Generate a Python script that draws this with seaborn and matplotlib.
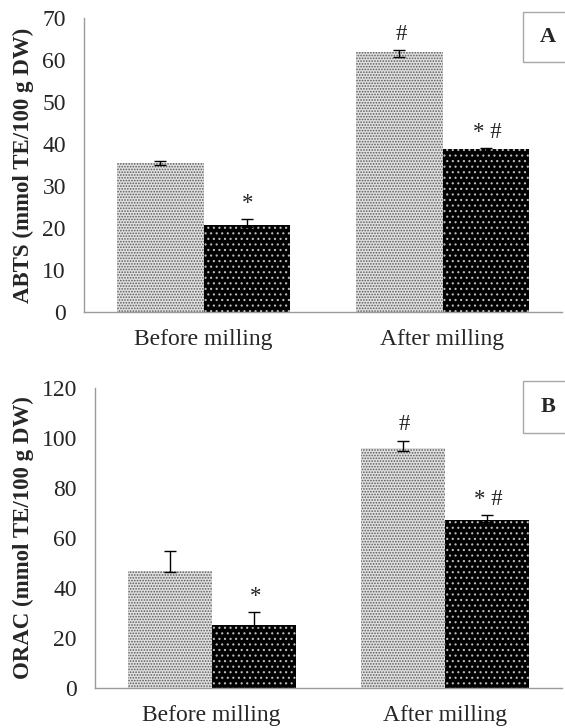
import pandas as pd
import numpy as np
import matplotlib
matplotlib.use('Agg')
import matplotlib.pyplot as plt
from matplotlib.patches import Rectangle
import seaborn as sns

sns.set_style('white')
plt.rcParams['font.family'] = ['Liberation Serif', 'DejaVu Serif']
plt.rcParams['hatch.linewidth'] = 0.8

# data
stages = ['Before milling', 'After milling']
groups = ['light', 'dark']

abts_light = [35.5, 62.0]
abts_dark = [20.7, 38.7]
abts_err_lo_light = [0.6, 1.2]
abts_err_hi_light = [0.5, 0.3]
abts_err_lo_dark = [0.5, 0.3]
abts_err_hi_dark = [1.4, 0.3]
abts_marks_light = ['', '#']
abts_marks_dark = ['*', '* #']

orac_light = [46.9, 95.9]
orac_dark = [25.2, 67.1]
orac_err_lo_light = [0.4, 1.0]
orac_err_hi_light = [8.0, 2.9]
orac_err_lo_dark = [0.5, 0.5]
orac_err_hi_dark = [5.1, 2.0]
orac_marks_light = ['', '#']
orac_marks_dark = ['*', '* #']


def make_df(light, dark):
    return pd.DataFrame({
        'stage': stages * 2,
        'group': [groups[0]] * 2 + [groups[1]] * 2,
        'value': list(light) + list(dark),
    })


def draw_panel(ax, light, dark, lo_l, hi_l, lo_d, hi_d, marks_l, marks_d,
               ylabel, ymax, step):
    df = make_df(light, dark)
    sns.barplot(data=df, x='stage', y='value', hue='group', order=stages,
                hue_order=groups, palette=['#e0e0e0', '#000000'],
                width=0.72, errorbar=None, legend=False, ax=ax,
                linewidth=0, saturation=1)
    bars = ax.patches[:4]
    # seaborn draws hue level by hue level
    for p in bars[:2]:
        p.set_hatch('......')
        p.set_edgecolor('#5a5a5a')
        p.set_linewidth(0)
    for p in bars[2:]:
        p.set_hatch('...')
        p.set_edgecolor('#bcbcbc')
        p.set_linewidth(0)

    vals = list(light) + list(dark)
    lo = list(lo_l) + list(lo_d)
    hi = list(hi_l) + list(hi_d)
    marks = list(marks_l) + list(marks_d)
    xs = [p.get_x() + p.get_width() / 2 for p in bars]
    ax.errorbar(xs, vals, yerr=[lo, hi], fmt='none', ecolor='black',
                elinewidth=1, capsize=4, capthick=1, zorder=5)
    for x, v, h, m in zip(xs, vals, hi, marks):
        if m:
            ax.annotate(m, (x, v + h), xytext=(1, 4), textcoords='offset points',
                        ha='center', va='bottom', fontsize=16.5, color='#222222')

    ax.set_ylim(0, ymax)
    ax.set_xlim(-0.5, 1.5)
    ax.set_yticks(np.arange(0, ymax + 1, step))
    ax.set_xlabel('')
    ax.set_ylabel(ylabel, fontsize=16.5, fontweight='bold')
    ax.tick_params(axis='y', length=0, pad=13, labelsize=17)
    ax.tick_params(axis='x', length=0, pad=12, labelsize=17)
    sns.despine(ax=ax)
    for s in ['left', 'bottom']:
        ax.spines[s].set_color('#9a9a9a')
        ax.spines[s].set_linewidth(1)


fig = plt.figure(figsize=(5.65, 7.28), dpi=100)
ax1 = fig.add_axes([84 / 565, 1 - 312 / 728, 478 / 565, 294 / 728])
ax2 = fig.add_axes([95 / 565, 1 - 688 / 728, 467 / 565, 300 / 728])

draw_panel(ax1, abts_light, abts_dark, abts_err_lo_light, abts_err_hi_light,
           abts_err_lo_dark, abts_err_hi_dark, abts_marks_light, abts_marks_dark,
           'ABTS (mmol TE/100 g DW)', 70, 10)
draw_panel(ax2, orac_light, orac_dark, orac_err_lo_light, orac_err_hi_light,
           orac_err_lo_dark, orac_err_hi_dark, orac_marks_light, orac_marks_dark,
           'ORAC (mmol TE/100 g DW)', 120, 20)
ax1.yaxis.set_label_coords(-0.105, 0.5)
ax2.yaxis.set_label_coords(-0.13, 0.5)

# panel tags in boxes at the top right
for tag, top, bot in [('A', 12, 62), ('B', 381, 433)]:
    fig.patches.append(Rectangle((523 / 565, 1 - bot / 728), 0.2, (bot - top) / 728,
                                 transform=fig.transFigure, fill=False,
                                 edgecolor='#a8a8a8', linewidth=1))
    fig.text(548 / 565, 1 - (top + bot) / 2 / 728, tag, ha='center', va='center',
             fontsize=16, fontweight='bold')

fig.savefig('out.png', dpi=100)
